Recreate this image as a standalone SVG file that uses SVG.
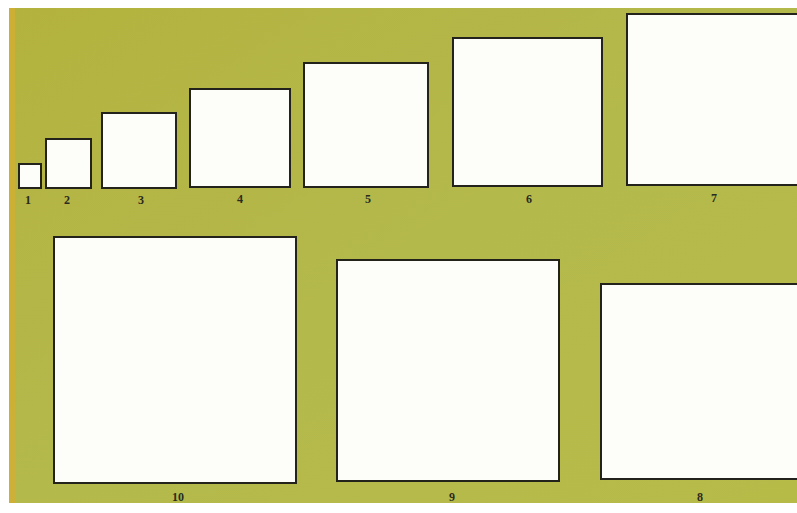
<svg xmlns="http://www.w3.org/2000/svg" width="797" height="513" viewBox="0 0 797 513">
<defs>
<linearGradient id="bg" x1="0" y1="0" x2="1" y2="1">
<stop offset="0" stop-color="#b3b23e"/>
<stop offset="0.5" stop-color="#b4b94c"/>
<stop offset="1" stop-color="#b6bb48"/>
</linearGradient>
<style>
.sq{fill:#fdfdfa;stroke:#23231c;stroke-width:2}
.lb{font-family:"Liberation Serif","DejaVu Serif",serif;font-size:12px;font-weight:bold;fill:#2a2a1e;text-anchor:middle}
</style>
</defs>
<rect x="0" y="0" width="797" height="513" fill="#ffffff"/>
<rect x="9" y="8" width="788" height="495" fill="url(#bg)"/>
<rect x="9" y="8" width="6" height="495" fill="#d2ae32" opacity="0.8"/>
<g id="n1"><rect class="sq" x="19" y="164" width="22" height="24"/><text class="lb" x="28" y="204">1</text></g>
<g id="n2"><rect class="sq" x="46" y="139" width="45" height="49"/><text class="lb" x="67" y="204">2</text></g>
<g id="n3"><rect class="sq" x="102" y="113" width="74" height="75"/><text class="lb" x="141" y="204">3</text></g>
<g id="n4"><rect class="sq" x="190" y="89" width="100" height="98"/><text class="lb" x="240" y="203">4</text></g>
<g id="n5"><rect class="sq" x="304" y="63" width="124" height="124"/><text class="lb" x="368" y="203">5</text></g>
<g id="n6"><rect class="sq" x="453" y="38" width="149" height="148"/><text class="lb" x="529" y="203">6</text></g>
<g id="n7"><rect class="sq" x="627" y="14" width="175" height="171"/><text class="lb" x="714" y="202">7</text></g>
<g id="n10"><rect class="sq" x="54" y="237" width="242" height="246"/><text class="lb" x="178" y="501">10</text></g>
<g id="n9"><rect class="sq" x="337" y="260" width="222" height="221"/><text class="lb" x="452" y="501">9</text></g>
<g id="n8"><rect class="sq" x="601" y="284" width="201" height="195"/><text class="lb" x="700" y="501">8</text></g>
<g id="connectors"></g>
</svg>
